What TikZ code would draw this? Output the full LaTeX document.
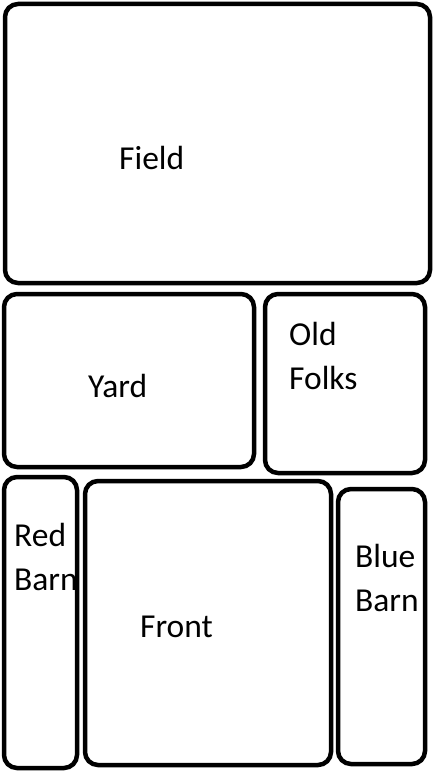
\documentclass[tikz,border=0pt]{standalone}
\usepackage{fontspec}
\setmainfont{Carlito}
\begin{document}
\begin{tikzpicture}[x=1pt,y=-1pt,
  area/.style={draw=black,line width=4.5pt,rounded corners=13pt,inner sep=0pt,outer sep=0pt,anchor=north west},
  lbl/.style={anchor=base west,inner sep=0pt,align=left,font=\fontsize{33.5}{44}\selectfont}]
\useasboundingbox (0,0) rectangle (438,775);
\node[area,minimum width=425pt,minimum height=279pt] (field) at (5,4) {};
\node[area,minimum width=250pt,minimum height=173pt] (yard) at (4,294) {};
\node[area,minimum width=160pt,minimum height=179pt] (oldfolks) at (265,294) {};
\node[area,minimum width=73pt,minimum height=291pt] (redbarn) at (4,477) {};
\node[area,minimum width=246pt,minimum height=284pt] (front) at (85,481) {};
\node[area,minimum width=87pt,minimum height=275pt] (bluebarn) at (338,489) {};
\node[lbl] (fieldtext) at (119,170) {Field};
\node[lbl] (yardtext) at (88,397) {Yard};
\node[lbl] (oldtext) at (289,389) {Old\\Folks};
\begin{scope}
  \clip (6,479) rectangle (75,766);
  \node[lbl] (redtext) at (14,590) {Red\\Barn};
\end{scope}
\node[lbl] (fronttext) at (140,637) {Front};
\node[lbl] (bluetext) at (355,611) {Blue\\Barn};
\end{tikzpicture}
\end{document}
